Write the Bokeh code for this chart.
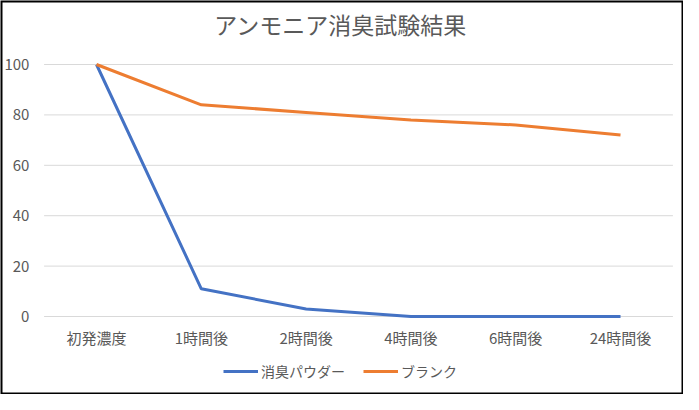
from bokeh.plotting import figure
from bokeh.models import Legend, LegendItem, Range1d
from bokeh.core.properties import value
from bokeh.embed import file_html
from bokeh.resources import INLINE

title_text = "アンモニア消臭試験結果"
categories = ["初発濃度", "1時間後", "2時間後", "4時間後", "6時間後", "24時間後"]
powder = [100, 11, 3, 0, 0, 0]
blank = [100, 84, 81, 78, 76, 72]
series_names = ["消臭パウダー", "ブランク"]
y_ticks = [0, 20, 40, 60, 80, 100]

FONT = "Noto Sans CJK JP"
GRAY = "#595959"

# category slot positions (slot i is centred at i + 0.5, like a categorical axis)
xs = [i + 0.5 for i in range(len(categories))]
n = len(categories)

X0, X1 = -0.416, 6.101
Y0, Y1 = -30.95, 125.4

p = figure(width=683, height=394, x_range=Range1d(X0, X1), y_range=Range1d(Y0, Y1),
           output_backend="svg", toolbar_location=None,
           min_border_left=0, min_border_right=0, min_border_top=0, min_border_bottom=0)

p.outline_line_color = None
p.xaxis.visible = False
p.yaxis.visible = False
p.xgrid.grid_line_color = None
p.ygrid.grid_line_color = None

# horizontal gridlines
p.segment(x0=[0] * len(y_ticks), x1=[n] * len(y_ticks), y0=y_ticks, y1=y_ticks,
          line_color="#D9D9D9", line_width=1)

# y tick labels
p.text(x=[-0.14] * len(y_ticks), y=y_ticks, text=[str(t) for t in y_ticks],
       text_font=value(FONT), text_font_size="15px", text_color=GRAY,
       text_align="right", text_baseline="middle")

# chart title
p.text(x=[2.83], y=[116.0], text=[title_text], text_font=value(FONT),
       text_font_size="23px", text_color=GRAY, text_align="center", text_baseline="middle")

# category labels
p.text(x=xs, y=[-8.3] * n, text=categories,
       text_font=value(FONT), text_font_size="15px", text_color=GRAY,
       text_align="center", text_baseline="middle")

r1 = p.line(xs, powder, line_color="#4472C4", line_width=3)
r2 = p.line(xs, blank, line_color="#ED7D31", line_width=3)

legend = Legend(items=[LegendItem(label=series_names[0], renderers=[r1]),
                       LegendItem(label=series_names[1], renderers=[r2])],
                orientation="horizontal", location=(223, 13),
                label_text_font=FONT, label_text_font_size="14px",
                label_text_color=GRAY, glyph_width=35, label_standoff=3,
                spacing=18, border_line_color=None, background_fill_alpha=0,
                margin=0, padding=4)
p.add_layout(legend, "center")

# chart border
p.quad(left=[X0], right=[X1], bottom=[Y0], top=[Y1], fill_alpha=0,
       line_color="black", line_width=4)

open("out.html", "w").write(file_html(p, INLINE))
